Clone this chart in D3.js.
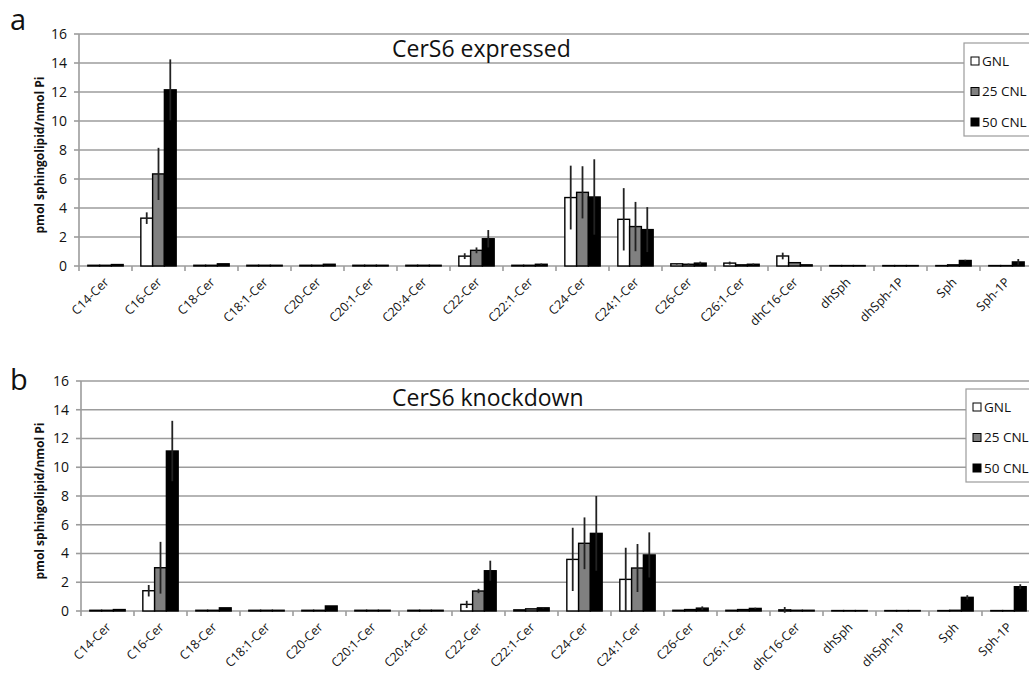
<!DOCTYPE html>
<html>
<head>
<meta charset="utf-8">
<script src="https://cdn.jsdelivr.net/npm/d3@7"></script>
<style>
  body { margin: 0; background: #fff; }
  svg { display: block; font-family: "Open Sans", sans-serif; }
</style>
</head>
<body>
<svg id="chart" width="1029" height="673"></svg>
<script>
const categories = ["C14-Cer", "C16-Cer", "C18-Cer", "C18:1-Cer", "C20-Cer", "C20:1-Cer", "C20:4-Cer",
    "C22-Cer", "C22:1-Cer", "C24-Cer", "C24:1-Cer", "C26-Cer", "C26:1-Cer", "dhC16-Cer",
    "dhSph", "dhSph-1P", "Sph", "Sph-1P"];
const seriesNames = ["GNL", "25 CNL", "50 CNL"];
const yTicks = [0, 2, 4, 6, 8, 10, 12, 14, 16];

// panel a - CerS6 expressed
const gnlA   = [0.05, 3.3, 0.05, 0.05, 0.05, 0.05, 0.05, 0.68, 0.05, 4.72, 3.22, 0.15, 0.2, 0.69, 0.03, 0.03, 0.03, 0.03];
const cnl25A = [0.05, 6.35, 0.05, 0.05, 0.05, 0.05, 0.05, 1.08, 0.05, 5.08, 2.72, 0.12, 0.08, 0.23, 0.03, 0.03, 0.08, 0.03];
const cnl50A = [0.1, 12.15, 0.15, 0.05, 0.12, 0.05, 0.05, 1.88, 0.12, 4.76, 2.51, 0.2, 0.12, 0.08, 0.03, 0.03, 0.38, 0.28];
const errGnlA   = [0, 0.4, 0, 0, 0, 0, 0, 0.2, 0, 2.2, 2.15, 0.05, 0.1, 0.23, 0, 0, 0, 0];
const errCnl25A = [0, 1.8, 0, 0, 0, 0, 0, 0.2, 0, 1.8, 1.7, 0.05, 0.03, 0, 0, 0, 0, 0];
const errCnl50A = [0, 2.1, 0, 0, 0, 0, 0, 0.6, 0.05, 2.6, 1.55, 0.1, 0.05, 0, 0, 0, 0.05, 0.2];

// panel b - CerS6 knockdown
const gnlB   = [0.05, 1.41, 0.05, 0.05, 0.05, 0.05, 0.05, 0.46, 0.08, 3.59, 2.2, 0.05, 0.05, 0.08, 0.03, 0.03, 0.03, 0.03];
const cnl25B = [0.05, 3.01, 0.05, 0.05, 0.05, 0.05, 0.05, 1.39, 0.15, 4.71, 2.99, 0.1, 0.1, 0.05, 0.03, 0.03, 0.05, 0.03];
const cnl50B = [0.1, 11.13, 0.22, 0.05, 0.35, 0.05, 0.05, 2.8, 0.22, 5.4, 3.9, 0.2, 0.18, 0.05, 0.03, 0.03, 0.95, 1.69];
const errGnlB   = [0, 0.4, 0, 0, 0, 0, 0, 0.25, 0, 2.2, 2.2, 0, 0, 0.2, 0, 0, 0, 0];
const errCnl25B = [0, 1.8, 0, 0, 0, 0, 0, 0.15, 0, 1.8, 1.67, 0, 0, 0, 0, 0, 0, 0];
const errCnl50B = [0, 2.1, 0, 0, 0, 0, 0, 0.7, 0.05, 2.6, 1.57, 0.12, 0.05, 0, 0, 0, 0.15, 0.17];

const fills = ["#ffffff", "#808080", "#000000"];
const gridColor = "#9c9c9c";

const svg = d3.select("#chart");

function drawPanel(p) {
    const g = svg.append("g");
    const x = d3.scaleBand().domain(categories).range([p.left, p.left + 954]).padding(0);
    const xs = d3.scaleBand().domain(seriesNames)
        .range([x.bandwidth() / 6, x.bandwidth() * 5 / 6]).padding(0);
    const y = d3.scaleLinear().domain([0, 16]).range([p.bottom, p.top]);

    // gridlines
    g.selectAll(".grid").data(yTicks).enter().append("line")
        .attr("x1", p.left).attr("x2", 1040)
        .attr("y1", d => y(d)).attr("y2", d => y(d))
        .attr("stroke", gridColor).attr("stroke-width", 1.6);

    // y axis line
    g.append("line")
        .attr("x1", p.left).attr("x2", p.left)
        .attr("y1", y(0)).attr("y2", y(16))
        .attr("stroke", gridColor).attr("stroke-width", 1.6);

    // y tick marks + labels
    g.selectAll(".ytick").data(yTicks).enter().append("line")
        .attr("x1", p.left - 5).attr("x2", p.left)
        .attr("y1", d => y(d)).attr("y2", d => y(d))
        .attr("stroke", gridColor).attr("stroke-width", 1.6);
    g.selectAll(".ylab").data(yTicks).enter().append("text")
        .attr("x", p.left - 12).attr("y", d => y(d)).attr("dy", "0.35em")
        .attr("text-anchor", "end").attr("font-size", 14).attr("fill", "#111")
        .text(d => d);

    // x tick marks at category boundaries
    const bounds = categories.map(c => x(c));
    g.selectAll(".xtick").data(bounds).enter().append("line")
        .attr("x1", d => d).attr("x2", d => d)
        .attr("y1", y(0)).attr("y2", y(0) + 5)
        .attr("stroke", gridColor).attr("stroke-width", 1.6);

    // x labels
    g.selectAll(".xlab").data(categories).enter().append("text")
        .attr("transform", d => `translate(${x(d) + x.bandwidth() / 2 + 4},${y(0) + 17}) rotate(-45)`)
        .attr("text-anchor", "end").attr("font-size", 12.5).attr("fill", "#111")
        .text(d => d);

    // bars
    const series = [p.gnl, p.cnl25, p.cnl50];
    const errs = [p.errGnl, p.errCnl25, p.errCnl50];
    const rows = [];
    categories.forEach((c, i) => {
        seriesNames.forEach((s, j) => {
            rows.push({ cat: c, s: s, j: j, v: series[j][i], e: errs[j][i] });
        });
    });
    g.selectAll(".bar").data(rows).enter().append("rect")
        .attr("x", d => x(d.cat) + xs(d.s))
        .attr("y", d => y(d.v))
        .attr("width", xs.bandwidth())
        .attr("height", d => y(0) - y(d.v))
        .attr("fill", d => fills[d.j])
        .attr("stroke", "#000").attr("stroke-width", 1.4);

    // error bars
    g.selectAll(".err").data(rows.filter(d => d.e > 0)).enter().append("line")
        .attr("x1", d => x(d.cat) + xs(d.s) + xs.bandwidth() / 2)
        .attr("x2", d => x(d.cat) + xs(d.s) + xs.bandwidth() / 2)
        .attr("y1", d => y(d.v - d.e)).attr("y2", d => y(d.v + d.e))
        .attr("stroke", "#222").attr("stroke-width", 1.8);

    // y axis title
    g.append("text")
        .attr("transform", `translate(44,${(y(0) + y(16)) / 2 + 5}) rotate(-90)`)
        .attr("text-anchor", "middle").attr("font-size", 12).attr("font-weight", "bold")
        .attr("fill", "#111")
        .text("pmol sphingolipid/nmol Pi");

    // panel title
    g.append("text")
        .attr("x", 392).attr("y", p.titleY)
        .attr("font-size", 23).attr("fill", "#111")
        .text(p.title);

    // panel letter
    g.append("text")
        .attr("x", 10).attr("y", p.letterY)
        .attr("font-size", 29).attr("fill", "#111")
        .text(p.letter);

    // legend
    const lg = g.append("g").attr("transform", `translate(${p.legendX},${p.legendY})`);
    lg.append("rect").attr("x", 0).attr("y", 0).attr("width", 90).attr("height", 93)
        .attr("fill", "#fff").attr("stroke", gridColor).attr("stroke-width", 1.2);
    seriesNames.forEach((s, j) => {
        const cy = 18 + j * 30.5;
        lg.append("rect").attr("x", 7).attr("y", cy - 4).attr("width", 8).attr("height", 8)
            .attr("fill", fills[j]).attr("stroke", "#000").attr("stroke-width", 1);
        lg.append("text").attr("x", 18).attr("y", cy).attr("dy", "0.35em")
            .attr("font-size", 13.5).attr("fill", "#111").text(s);
    });
}

drawPanel({
    left: 79, top: 34, bottom: 266,
    gnl: gnlA, cnl25: cnl25A, cnl50: cnl50A,
    errGnl: errGnlA, errCnl25: errCnl25A, errCnl50: errCnl50A,
    title: "CerS6 expressed", titleY: 57,
    letter: "a", letterY: 30,
    legendX: 964, legendY: 43
});

drawPanel({
    left: 81, top: 381, bottom: 611,
    gnl: gnlB, cnl25: cnl25B, cnl50: cnl50B,
    errGnl: errGnlB, errCnl25: errCnl25B, errCnl50: errCnl50B,
    title: "CerS6 knockdown", titleY: 406,
    letter: "b", letterY: 390,
    legendX: 966, legendY: 389
});
</script>
</body>
</html>
